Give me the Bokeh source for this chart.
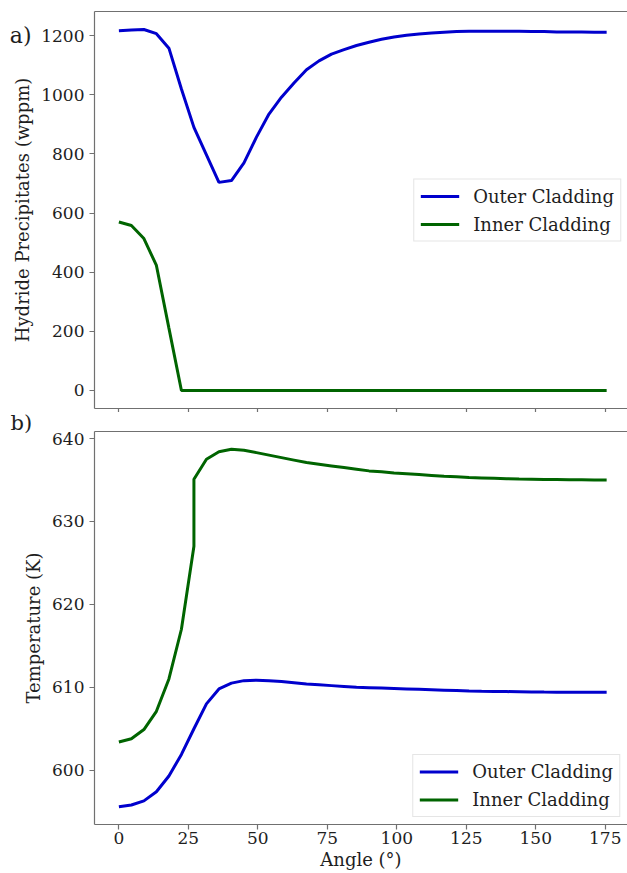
from bokeh.plotting import figure
from bokeh.layouts import column
from bokeh.models import Range1d, FixedTicker, LinearAxis, Title
from bokeh.embed import file_html
from bokeh.resources import INLINE

# angle along the cladding (deg); 27 appears twice (jump in inner temperature)
angle = [0, 4.5, 9, 13.5, 18, 22.5, 27, 27, 31.5, 36, 40.5, 45, 49.5, 54,
         58.5, 63, 67.5, 72, 76.5, 81, 85.5, 90, 94.5, 99, 103.5, 108, 112.5,
         117, 121.5, 126, 130.5, 135, 139.5, 144, 148.5, 153, 157.5, 162,
         166.5, 171, 175.5]

outer_hydride = [1217, 1219, 1221, 1207, 1158, 1020, 890, 890, 797, 704, 710,
                 770, 857, 935, 992, 1040, 1085, 1115, 1138, 1153, 1167, 1178,
                 1188, 1196, 1202, 1206, 1209, 1212, 1214, 1215, 1215, 1215,
                 1215, 1215, 1214, 1214, 1213, 1213, 1213, 1212, 1212]
inner_hydride = [570, 558, 514, 423, 211, 0, 0, 0, 0, 0, 0, 0, 0, 0, 0, 0, 0,
                 0, 0, 0, 0, 0, 0, 0, 0, 0, 0, 0, 0, 0, 0, 0, 0, 0, 0, 0, 0, 0,
                 0, 0, 0]

outer_temp = [595.6, 595.8, 596.3, 597.4, 599.3, 601.9, 605.0, 605.0, 608.0,
              609.8, 610.5, 610.8, 610.85, 610.8, 610.7, 610.55, 610.4, 610.3,
              610.2, 610.1, 610.0, 609.95, 609.9, 609.85, 609.8, 609.75, 609.7,
              609.65, 609.6, 609.55, 609.52, 609.5, 609.48, 609.46, 609.44,
              609.42, 609.41, 609.4, 609.4, 609.4, 609.4]
inner_temp = [603.4, 603.8, 604.9, 607.1, 611.0, 617.0, 627.0, 635.1, 637.5,
              638.4, 638.7, 638.6, 638.3, 638.0, 637.7, 637.4, 637.1, 636.9,
              636.7, 636.5, 636.3, 636.1, 636.0, 635.85, 635.75, 635.65, 635.55,
              635.45, 635.38, 635.3, 635.25, 635.2, 635.15, 635.12, 635.1,
              635.07, 635.05, 635.03, 635.02, 635.01, 635.0]

x_ticks = [0, 25, 50, 75, 100, 125, 150, 175]
hyd_ticks = [0, 200, 400, 600, 800, 1000, 1200]
temp_ticks = [600, 610, 620, 630, 640]

FONT = "DejaVu Serif"
INK = "#1e1e1e"
SPINE = "#707070"
BLUE = "#0000cd"
GREEN = "#006400"


def style(p, xticks, yticks):
    p.outline_line_color = None
    p.xgrid.visible = False
    p.ygrid.visible = False
    xa, ya = p.below[0], p.left[0]
    xa.ticker = FixedTicker(ticks=xticks)
    ya.ticker = FixedTicker(ticks=yticks)
    for ax in (xa, ya):
        ax.axis_line_color = SPINE
        ax.axis_line_width = 1.2
        ax.major_tick_line_color = SPINE
        ax.major_tick_line_width = 1.2
        ax.major_tick_out = 5
        ax.major_tick_in = 0
        ax.minor_tick_line_color = None
        ax.major_label_standoff = 5
        ax.major_label_text_font = FONT
        ax.major_label_text_font_size = "17px"
        ax.major_label_text_color = INK
        ax.axis_label_text_font = FONT
        ax.axis_label_text_font_size = "18px"
        ax.axis_label_text_font_style = "normal"
        ax.axis_label_text_color = INK
        ax.axis_label_standoff = 5
    # top spine only (the right edge of the frame is cut off in the original)
    top = LinearAxis(ticker=FixedTicker(ticks=[]), axis_line_color=SPINE,
                     axis_line_width=1.2, major_tick_out=0, major_tick_in=0,
                     major_label_standoff=0, minor_tick_line_color=None)
    p.add_layout(top, "above")
    return xa, ya


def style_legend(p, loc, margin):
    lg = p.legend[0]
    lg.location = loc
    lg.margin = margin
    lg.label_text_font = FONT
    lg.label_text_font_size = "18px"
    lg.label_text_color = INK
    lg.glyph_width = 39
    lg.glyph_height = 21
    lg.label_height = 21
    lg.label_standoff = 14
    lg.spacing = 7
    lg.padding = 6
    lg.border_line_color = "#cccccc"
    lg.background_fill_alpha = 0.8


x_range = Range1d(-8.775, 183.0)

p1 = figure(width=627, height=412, x_range=x_range, y_range=Range1d(-61, 1282),
            output_backend="svg", toolbar_location=None,
            min_border_left=94, min_border_right=0, min_border_top=11,
            min_border_bottom=4)
p1.line(angle, outer_hydride, color=BLUE, line_width=3, legend_label="Outer Cladding")
p1.line(angle, inner_hydride, color=GREEN, line_width=3, legend_label="Inner Cladding")
xa1, ya1 = style(p1, x_ticks, hyd_ticks)
xa1.major_tick_out = 4
xa1.major_label_standoff = 0
xa1.major_label_text_font_size = "0px"
xa1.major_label_overrides = {t: "" for t in x_ticks}
ya1.axis_label = "Hydride Precipitates (wppm)"
style_legend(p1, "center_right", 6)
# panel tag "a)" drawn as the single tick label of an outer, line-less axis
tag_a = LinearAxis(ticker=FixedTicker(ticks=[1200]), major_label_overrides={1200: "a)"},
                   axis_line_color=None, major_tick_line_color=None,
                   minor_tick_line_color=None, major_tick_out=0, major_tick_in=0,
                   major_label_standoff=-22, major_label_text_font=FONT,
                   major_label_text_font_size="22px", major_label_text_color=INK)
p1.add_layout(tag_a, "left")

p2 = figure(width=627, height=461, x_range=x_range, y_range=Range1d(593.45, 640.85),
            output_backend="svg", toolbar_location=None,
            min_border_left=92, min_border_right=0, min_border_top=0,
            min_border_bottom=49)
p2.line(angle, outer_temp, color=BLUE, line_width=3, legend_label="Outer Cladding")
p2.line(angle, inner_temp, color=GREEN, line_width=3, legend_label="Inner Cladding")
xa2, ya2 = style(p2, x_ticks, temp_ticks)
p2.add_layout(Title(text="b)", align="left", offset=-84, standoff=-7,
                    text_font=FONT, text_font_size="21px", text_color=INK,
                    text_font_style="normal"), "above")
xa2.major_label_standoff = 2
xa2.axis_label = "Angle (°)"
xa2.axis_label_standoff = 2
ya2.axis_label = "Temperature (K)"
style_legend(p2, "bottom_right", 7)

layout = column(p1, p2, spacing=0)
open("out.html", "w").write(file_html(layout, INLINE))
